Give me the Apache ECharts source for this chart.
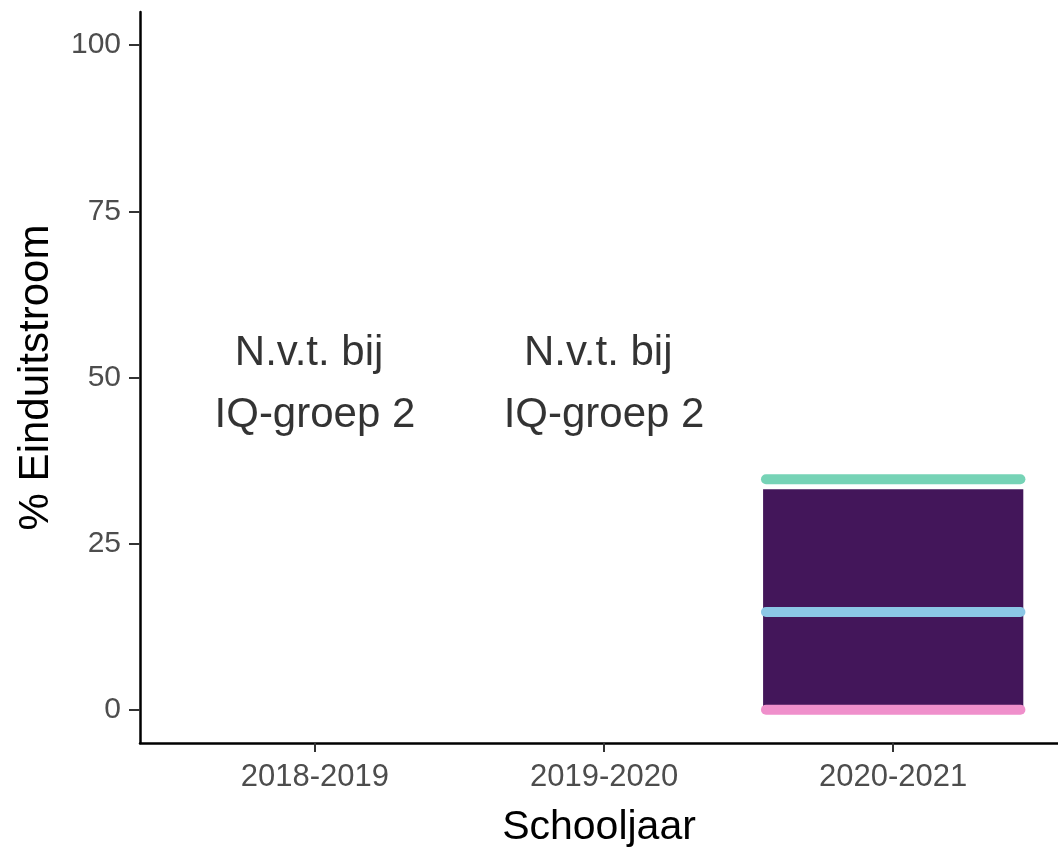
<!DOCTYPE html>
<html>
<head>
<meta charset="utf-8">
<script src="https://cdn.jsdelivr.net/npm/echarts@6/dist/echarts.min.js"></script>
<style>
html,body{margin:0;padding:0;background:#fff;}
#chart{width:1058px;height:847px;}
</style>
</head>
<body>
<div id="chart"></div>
<script>
// ---- data ----
const categories = ['2018-2019', '2019-2020', '2020-2021'];
const yTicks = [0, 25, 50, 75, 100];
// dark band (0 .. value) per school year; null = not applicable
const bandValues = [null, null, 33.2];
// horizontal reference lines per school year
const greenLine = [null, null, 34.7];
const blueLine = [null, null, 14.7];
const pinkLine = [null, null, 0];
// annotation text per school year
const annotations = ['N.v.t. bij \nIQ-groep 2', 'N.v.t. bij \nIQ-groep 2', null];
const annotationY = 50;

const FONT = '"Liberation Sans", Arial, sans-serif';
const HALF = 0.45;

function pos(i) { return i + 1; }

const bandData = bandValues.map((v, i) => v == null ? null : [pos(i), v]).filter(Boolean);
function lineData(arr) { return arr.map((v, i) => v == null ? null : [pos(i), v]).filter(Boolean); }
const annData = annotations.map((t, i) => t == null ? null : { value: [pos(i), annotationY], name: t }).filter(Boolean);

function bandRender(params, api) {
  const x = api.value(0), v = api.value(1);
  const p1 = api.coord([x - HALF, v]);
  const p2 = api.coord([x + HALF, 0]);
  return {
    type: 'rect',
    shape: { x: p1[0], y: p1[1], width: p2[0] - p1[0], height: p2[1] - p1[1] },
    style: { fill: '#43165A' }
  };
}
function makeLineRender(color) {
  return function (params, api) {
    const x = api.value(0), v = api.value(1);
    const p1 = api.coord([x - 0.44, v]);
    const p2 = api.coord([x + 0.44, v]);
    return {
      type: 'line',
      shape: { x1: p1[0], y1: p1[1], x2: p2[0], y2: p2[1] },
      style: { stroke: color, lineWidth: 10, lineCap: 'round' }
    };
  };
}

const chart = echarts.init(document.getElementById('chart'));
chart.setOption({
  animation: false,
  backgroundColor: '#fff',
  grid: { left: 140, top: 12, right: 0, height: 731, containLabel: false, outerBoundsMode: 'none' },
  xAxis: {
    type: 'value', min: 0.395, max: 3.57,
    name: 'Schooljaar', nameLocation: 'middle', nameGap: 64,
    nameTextStyle: { fontFamily: FONT, fontSize: 41, color: '#000' },
    axisLine: { show: true, onZero: false, lineStyle: { color: '#000', width: 2.5 } },
    axisTick: { show: true, length: 9, lineStyle: { color: '#333', width: 2 }, customValues: categories.map((c, i) => pos(i)) },
    axisLabel: { fontFamily: FONT, fontSize: 31, color: '#4D4D4D', margin: 19,
      customValues: categories.map((c, i) => pos(i)),
      formatter: v => categories[Math.round(v) - 1] },
    splitLine: { show: false }
  },
  yAxis: {
    type: 'value', min: -5, max: 105,
    name: '% Einduitstroom', nameLocation: 'middle', nameGap: 83,
    nameTextStyle: { fontFamily: FONT, fontSize: 42, color: '#000' },
    axisLine: { show: true, onZero: false, lineStyle: { color: '#000', width: 2.5 } },
    axisTick: { show: true, length: 11, lineStyle: { color: '#333', width: 2 }, customValues: yTicks },
    axisLabel: { fontFamily: FONT, fontSize: 30, color: '#4D4D4D', margin: 19, customValues: yTicks },
    splitLine: { show: false }
  },
  series: [
    { type: 'custom', renderItem: bandRender, data: bandData, z: 2 },
    { type: 'custom', renderItem: makeLineRender('#76D3B6'), data: lineData(greenLine), z: 3 },
    { type: 'custom', renderItem: makeLineRender('#8CC7E6'), data: lineData(blueLine), z: 3 },
    { type: 'custom', renderItem: makeLineRender('#EF8FCB'), data: lineData(pinkLine), z: 3 },
    {
      type: 'scatter', data: annData, symbolSize: 0, z: 4,
      label: { show: true, position: 'inside', formatter: p => p.name, offset: [0, 7],
        fontFamily: FONT, fontSize: 42, color: '#000', lineHeight: 62, align: 'center' }
    }
  ]
});
</script>
</body>
</html>
